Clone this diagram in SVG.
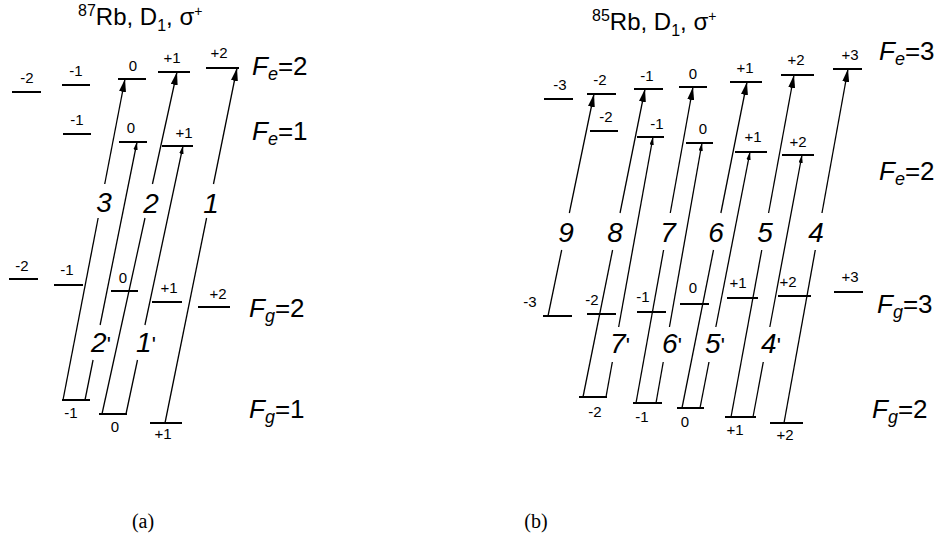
<svg xmlns="http://www.w3.org/2000/svg" width="939" height="541" viewBox="0 0 939 541">
<style>
.lv{stroke:#000;stroke-width:2;fill:none}
.tr{stroke:#000;stroke-width:1.3;fill:none}
.ml{font-family:"Liberation Sans",Arial,sans-serif;font-size:15px;text-anchor:middle}
.big{font-family:"Liberation Sans",Arial,sans-serif;font-size:28px;font-style:italic;text-anchor:middle}
.pr{font-size:22px;font-style:normal}
.F{font-family:"Liberation Sans",Arial,sans-serif;font-size:26px}
.ttl{font-family:"Liberation Sans",Arial,sans-serif;font-size:24px}
.cap{font-family:"Liberation Serif","Times New Roman",serif;font-size:20px;text-anchor:middle}
</style>
<defs>
<marker id="ah" markerUnits="userSpaceOnUse" markerWidth="13" markerHeight="7" refX="13" refY="3.5" orient="auto"><path d="M0,0 L13,3.5 L0,7 z" fill="#000"/></marker>
<marker id="as" markerUnits="userSpaceOnUse" markerWidth="8" markerHeight="5" refX="8" refY="2.2" orient="auto"><path d="M0,0 L8,2.2 L0,4.4 z" fill="#000"/></marker>
</defs>
<rect width="939" height="541" fill="#fff"/>

<!-- Titles -->
<text class="ttl" x="78" y="25"><tspan font-size="16" dy="-9">87</tspan><tspan dy="9">Rb, D</tspan><tspan font-size="16" dy="6">1</tspan><tspan dy="-6">, σ</tspan><tspan font-size="14" dy="-9">+</tspan></text>
<text class="ttl" x="592" y="30"><tspan font-size="16" dy="-9">85</tspan><tspan dy="9">Rb, D</tspan><tspan font-size="16" dy="6">1</tspan><tspan dy="-6">, σ</tspan><tspan font-size="14" dy="-9">+</tspan></text>

<!-- (a) 87Rb levels -->
<g id="a-Fe2-m2"><line class="lv" x1="12" y1="92" x2="41" y2="92"/><text class="ml" x="27" y="83">-2</text></g>
<g id="a-Fe2-m1"><line class="lv" x1="62" y1="85" x2="90" y2="85"/><text class="ml" x="76" y="76">-1</text></g>
<g id="a-Fe2-0"><line class="lv" x1="118" y1="79" x2="146" y2="79"/><text class="ml" x="133" y="71">0</text></g>
<g id="a-Fe2-p1"><line class="lv" x1="158" y1="72" x2="190" y2="72"/><text class="ml" x="172" y="63">+1</text></g>
<g id="a-Fe2-p2"><line class="lv" x1="206" y1="68" x2="239" y2="68"/><text class="ml" x="219" y="58">+2</text></g>
<g id="a-Fe2-label"><text class="F" x="252" y="75"><tspan font-style="italic">F</tspan><tspan font-style="italic" font-size="18" dy="5">e</tspan><tspan dy="-5">=2</tspan></text></g>

<g id="a-Fe1-m1"><line class="lv" x1="63" y1="134" x2="91" y2="134"/><text class="ml" x="77" y="125">-1</text></g>
<g id="a-Fe1-0"><line class="lv" x1="119" y1="142" x2="147" y2="142"/><text class="ml" x="131" y="133">0</text></g>
<g id="a-Fe1-p1"><line class="lv" x1="162" y1="146" x2="193" y2="146"/><text class="ml" x="184" y="138">+1</text></g>
<g id="a-Fe1-label"><text class="F" x="252" y="140"><tspan font-style="italic">F</tspan><tspan font-style="italic" font-size="18" dy="5">e</tspan><tspan dy="-5">=1</tspan></text></g>

<g id="a-Fg2-m2"><line class="lv" x1="9" y1="279" x2="38" y2="279"/><text class="ml" x="22" y="271">-2</text></g>
<g id="a-Fg2-m1"><line class="lv" x1="54" y1="285" x2="83" y2="285"/><text class="ml" x="67" y="275">-1</text></g>
<g id="a-Fg2-0"><line class="lv" x1="111" y1="291" x2="138" y2="291"/><text class="ml" x="123" y="283">0</text></g>
<g id="a-Fg2-p1"><line class="lv" x1="152" y1="302" x2="182" y2="302"/><text class="ml" x="169" y="293">+1</text></g>
<g id="a-Fg2-p2"><line class="lv" x1="198" y1="307" x2="230" y2="307"/><text class="ml" x="218" y="299">+2</text></g>
<g id="a-Fg2-label"><text class="F" x="249" y="317"><tspan font-style="italic">F</tspan><tspan font-style="italic" font-size="18" dy="5">g</tspan><tspan dy="-5">=2</tspan></text></g>

<g id="a-Fg1-m1"><line class="lv" x1="62" y1="400" x2="90" y2="400"/><text class="ml" x="71" y="418">-1</text></g>
<g id="a-Fg1-0"><line class="lv" x1="99" y1="414" x2="127" y2="414"/><text class="ml" x="115" y="432">0</text></g>
<g id="a-Fg1-p1"><line class="lv" x1="150" y1="423" x2="182" y2="423"/><text class="ml" x="163" y="439">+1</text></g>
<g id="a-Fg1-label"><text class="F" x="249" y="418"><tspan font-style="italic">F</tspan><tspan font-style="italic" font-size="18" dy="5">g</tspan><tspan dy="-5">=1</tspan></text></g>

<!-- (b) 85Rb levels -->
<g id="b-Fe3-m3"><line class="lv" x1="544" y1="99" x2="573" y2="99"/><text class="ml" x="560" y="90">-3</text></g>
<g id="b-Fe3-m2"><line class="lv" x1="587" y1="94" x2="616" y2="94"/><text class="ml" x="600" y="85">-2</text></g>
<g id="b-Fe3-m1"><line class="lv" x1="634" y1="89" x2="663" y2="89"/><text class="ml" x="647" y="81">-1</text></g>
<g id="b-Fe3-0"><line class="lv" x1="679" y1="87" x2="707" y2="87"/><text class="ml" x="693" y="79">0</text></g>
<g id="b-Fe3-p1"><line class="lv" x1="730" y1="82" x2="762" y2="82"/><text class="ml" x="745" y="73">+1</text></g>
<g id="b-Fe3-p2"><line class="lv" x1="781" y1="75" x2="814" y2="75"/><text class="ml" x="796" y="65">+2</text></g>
<g id="b-Fe3-p3"><line class="lv" x1="833" y1="69" x2="862" y2="69"/><text class="ml" x="850" y="60">+3</text></g>
<g id="b-Fe3-label"><text class="F" x="879" y="60"><tspan font-style="italic">F</tspan><tspan font-style="italic" font-size="18" dy="5">e</tspan><tspan dy="-5">=3</tspan></text></g>

<g id="b-Fe2-m2"><line class="lv" x1="590" y1="131" x2="618" y2="131"/><text class="ml" x="606" y="122">-2</text></g>
<g id="b-Fe2-m1"><line class="lv" x1="637" y1="137" x2="664" y2="137"/><text class="ml" x="657" y="129">-1</text></g>
<g id="b-Fe2-0"><line class="lv" x1="686" y1="143" x2="713" y2="143"/><text class="ml" x="703" y="134">0</text></g>
<g id="b-Fe2-p1"><line class="lv" x1="735" y1="152" x2="767" y2="152"/><text class="ml" x="753" y="142">+1</text></g>
<g id="b-Fe2-p2"><line class="lv" x1="782" y1="155" x2="814" y2="155"/><text class="ml" x="798" y="147">+2</text></g>
<g id="b-Fe2-label"><text class="F" x="879" y="180"><tspan font-style="italic">F</tspan><tspan font-style="italic" font-size="18" dy="5">e</tspan><tspan dy="-5">=2</tspan></text></g>

<g id="b-Fg3-m3"><line class="lv" x1="543" y1="316" x2="572" y2="316"/><text class="ml" x="530" y="307">-3</text></g>
<g id="b-Fg3-m2"><line class="lv" x1="587" y1="314" x2="616" y2="314"/><text class="ml" x="592" y="305">-2</text></g>
<g id="b-Fg3-m1"><line class="lv" x1="637" y1="312" x2="666" y2="312"/><text class="ml" x="643" y="302">-1</text></g>
<g id="b-Fg3-0"><line class="lv" x1="680" y1="304" x2="709" y2="304"/><text class="ml" x="693" y="293">0</text></g>
<g id="b-Fg3-p1"><line class="lv" x1="727" y1="298" x2="758" y2="298"/><text class="ml" x="738" y="288">+1</text></g>
<g id="b-Fg3-p2"><line class="lv" x1="778" y1="296" x2="811" y2="296"/><text class="ml" x="788" y="287">+2</text></g>
<g id="b-Fg3-p3"><line class="lv" x1="834" y1="292" x2="863" y2="292"/><text class="ml" x="850" y="282">+3</text></g>
<g id="b-Fg3-label"><text class="F" x="877" y="313"><tspan font-style="italic">F</tspan><tspan font-style="italic" font-size="18" dy="5">g</tspan><tspan dy="-5">=3</tspan></text></g>

<g id="b-Fg2-m2"><line class="lv" x1="579" y1="397" x2="607" y2="397"/><text class="ml" x="595" y="417">-2</text></g>
<g id="b-Fg2-m1"><line class="lv" x1="633" y1="403" x2="662" y2="403"/><text class="ml" x="642" y="422">-1</text></g>
<g id="b-Fg2-0"><line class="lv" x1="677" y1="408" x2="704" y2="408"/><text class="ml" x="685" y="427">0</text></g>
<g id="b-Fg2-p1"><line class="lv" x1="725" y1="417" x2="756" y2="417"/><text class="ml" x="735" y="435">+1</text></g>
<g id="b-Fg2-p2"><line class="lv" x1="770" y1="423" x2="803" y2="423"/><text class="ml" x="785" y="440">+2</text></g>
<g id="b-Fg2-label"><text class="F" x="872" y="418"><tspan font-style="italic">F</tspan><tspan font-style="italic" font-size="18" dy="5">g</tspan><tspan dy="-5">=2</tspan></text></g>

<!-- Connectors (transitions) -->
<g id="connectors">
<!-- (a) -->
<line class="tr" x1="63" y1="400" x2="98.15" y2="218"/><line class="tr" x1="104.72" y1="184" x2="125" y2="79" marker-end="url(#ah)"/>
<line class="tr" x1="102" y1="414" x2="144.98" y2="218"/><line class="tr" x1="152.44" y1="184" x2="177" y2="72" marker-end="url(#ah)"/>
<line class="tr" x1="165" y1="423" x2="206.58" y2="218"/><line class="tr" x1="213.47" y1="184" x2="237" y2="68" marker-end="url(#ah)"/>
<line class="tr" x1="85" y1="400" x2="93.06" y2="360"/><line class="tr" x1="100.12" y1="325" x2="137" y2="142" marker-end="url(#as)"/>
<line class="tr" x1="126" y1="414" x2="137.49" y2="360"/><line class="tr" x1="144.93" y1="325" x2="183" y2="146" marker-end="url(#as)"/>
<!-- (b) -->
<line class="tr" x1="548" y1="316" x2="561.68" y2="250"/><line class="tr" x1="569.34" y1="213" x2="594" y2="94" marker-end="url(#ah)"/>
<line class="tr" x1="583" y1="397" x2="612.59" y2="250"/><line class="tr" x1="620.04" y1="213" x2="645" y2="89" marker-end="url(#ah)"/>
<line class="tr" x1="636" y1="403" x2="663.6" y2="250"/><line class="tr" x1="670.27" y1="213" x2="693" y2="87" marker-end="url(#ah)"/>
<line class="tr" x1="682" y1="408" x2="713.5" y2="250"/><line class="tr" x1="720.88" y1="213" x2="747" y2="82" marker-end="url(#ah)"/>
<line class="tr" x1="731" y1="417" x2="761.76" y2="250"/><line class="tr" x1="768.58" y1="213" x2="794" y2="75" marker-end="url(#ah)"/>
<line class="tr" x1="784" y1="423" x2="815.28" y2="250"/><line class="tr" x1="821.97" y1="213" x2="848" y2="69" marker-end="url(#ah)"/>
<line class="tr" x1="606" y1="397" x2="612.33" y2="362"/><line class="tr" x1="618.65" y1="327" x2="653" y2="137" marker-end="url(#as)"/>
<line class="tr" x1="656" y1="403" x2="663.25" y2="362"/><line class="tr" x1="669.45" y1="327" x2="702" y2="143" marker-end="url(#as)"/>
<line class="tr" x1="700" y1="408" x2="708.98" y2="362"/><line class="tr" x1="715.82" y1="327" x2="750" y2="152" marker-end="url(#as)"/>
<line class="tr" x1="753" y1="417" x2="763.29" y2="362"/><line class="tr" x1="769.83" y1="327" x2="802" y2="155" marker-end="url(#as)"/>
</g>

<!-- Transition labels -->
<g id="tlabels">
<text class="big" x="104" y="212">3</text>
<text class="big" x="151" y="213">2</text>
<text class="big" x="211" y="213">1</text>
<text class="big" x="101" y="352">2<tspan class="pr">'</tspan></text>
<text class="big" x="146" y="352">1<tspan class="pr">'</tspan></text>
<text class="big" x="566" y="242">9</text>
<text class="big" x="615" y="242">8</text>
<text class="big" x="668" y="242">7</text>
<text class="big" x="716" y="242">6</text>
<text class="big" x="765" y="242">5</text>
<text class="big" x="816" y="242">4</text>
<text class="big" x="620" y="353">7<tspan class="pr">'</tspan></text>
<text class="big" x="672" y="353">6<tspan class="pr">'</tspan></text>
<text class="big" x="715" y="353">5<tspan class="pr">'</tspan></text>
<text class="big" x="771" y="353">4<tspan class="pr">'</tspan></text>
</g>

<text class="cap" x="143" y="528">(a)</text>
<text class="cap" x="536" y="528">(b)</text>
</svg>
